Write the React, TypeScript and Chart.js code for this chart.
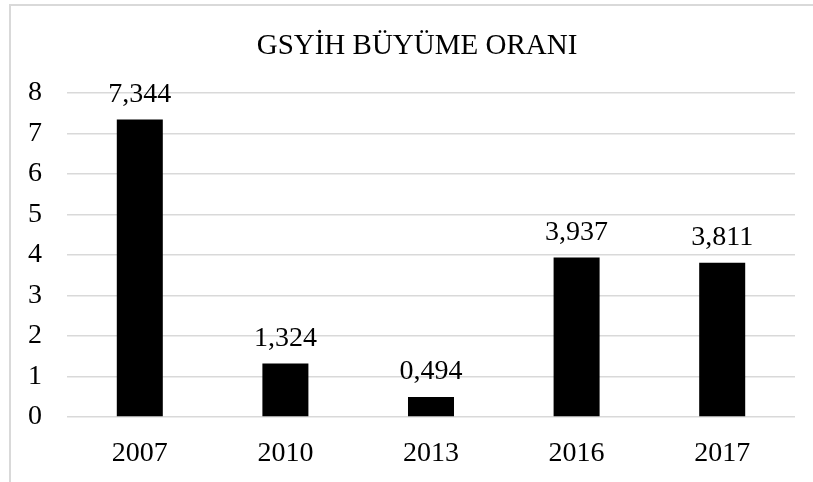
import React, { useEffect, useRef } from "react";
import { Chart, registerables } from "chart.js";

Chart.register(...registerables);

const categories = ["2007", "2010", "2013", "2016", "2017"];
const growthValues = [7.344, 1.324, 0.494, 3.937, 3.811];
const titleText = "GSYİH BÜYÜME ORANI";
const yMin = 0;
const yMax = 8;
const yStep = 1;

const FONT = "'Liberation Serif', 'Times New Roman', serif";

const valueLabels = {
  id: "valueLabels",
  afterDatasetsDraw(chart: any) {
    const ctx = chart.ctx;
    const meta = chart.getDatasetMeta(0);
    const data = chart.data.datasets[0].data as number[];
    ctx.save();
    ctx.font = `28px ${FONT}`;
    ctx.fillStyle = "#000";
    ctx.textAlign = "center";
    ctx.textBaseline = "alphabetic";
    meta.data.forEach((bar: any, i: number) => {
      const txt = data[i].toFixed(3).replace(".", ",");
      ctx.fillText(txt, bar.x, bar.y - 17.5);
    });
    ctx.restore();
  },
};

const chartTitle = {
  id: "chartTitle",
  afterDraw(chart: any) {
    const ctx = chart.ctx;
    ctx.save();
    ctx.font = `29px ${FONT}`;
    ctx.fillStyle = "#000";
    ctx.textAlign = "center";
    ctx.textBaseline = "alphabetic";
    ctx.fillText(titleText, 417, 53.5);
    ctx.restore();
  },
};

export default function App() {
  const ref = useRef<HTMLCanvasElement | null>(null);
  useEffect(() => {
    if (!ref.current) return;
    const chart = new Chart(ref.current, {
      type: "bar",
      data: {
        labels: categories,
        datasets: [
          {
            data: growthValues,
            backgroundColor: "#000",
            borderWidth: 0,
            categoryPercentage: 1,
            barPercentage: 0.316,
          },
        ],
      },
      options: {
        animation: false,
        responsive: false,
        maintainAspectRatio: false,
        layout: { padding: { left: 0, right: 18, top: 93, bottom: 0 } },
        plugins: {
          legend: { display: false },
          tooltip: { enabled: false },
          title: { display: false },
        },
        scales: {
          x: {
            grid: { display: false },
            border: { display: false },
            ticks: {
              color: "#000",
              font: { family: FONT, size: 28 },
              padding: 12,
            },
            afterFit(scale: any) {
              scale.height = 65;
            },
          },
          y: {
            min: yMin,
            max: yMax,
            border: { display: false },
            grid: { color: "#d9d9d9", lineWidth: 1.5, drawTicks: false },
            ticks: {
              stepSize: yStep,
              color: "#000",
              font: { family: FONT, size: 28 },
              padding: 25,
            },
            afterFit(scale: any) {
              scale.width = 67;
            },
          },
        },
      },
      plugins: [valueLabels, chartTitle],
    });
    return () => chart.destroy();
  }, []);

  return (
    <div style={{ position: "fixed", left: 0, top: 0, width: 813, height: 482, overflow: "hidden", background: "#fff" }}>
      <div
        style={{
          position: "absolute",
          left: 9,
          top: 4,
          width: 900,
          height: 600,
          border: "2px solid #d9d9d9",
          boxSizing: "border-box",
        }}
      />
      <canvas ref={ref} width={813} height={482} style={{ position: "absolute", left: 0, top: 0, width: 813, height: 482 }} />
    </div>
  );
}
